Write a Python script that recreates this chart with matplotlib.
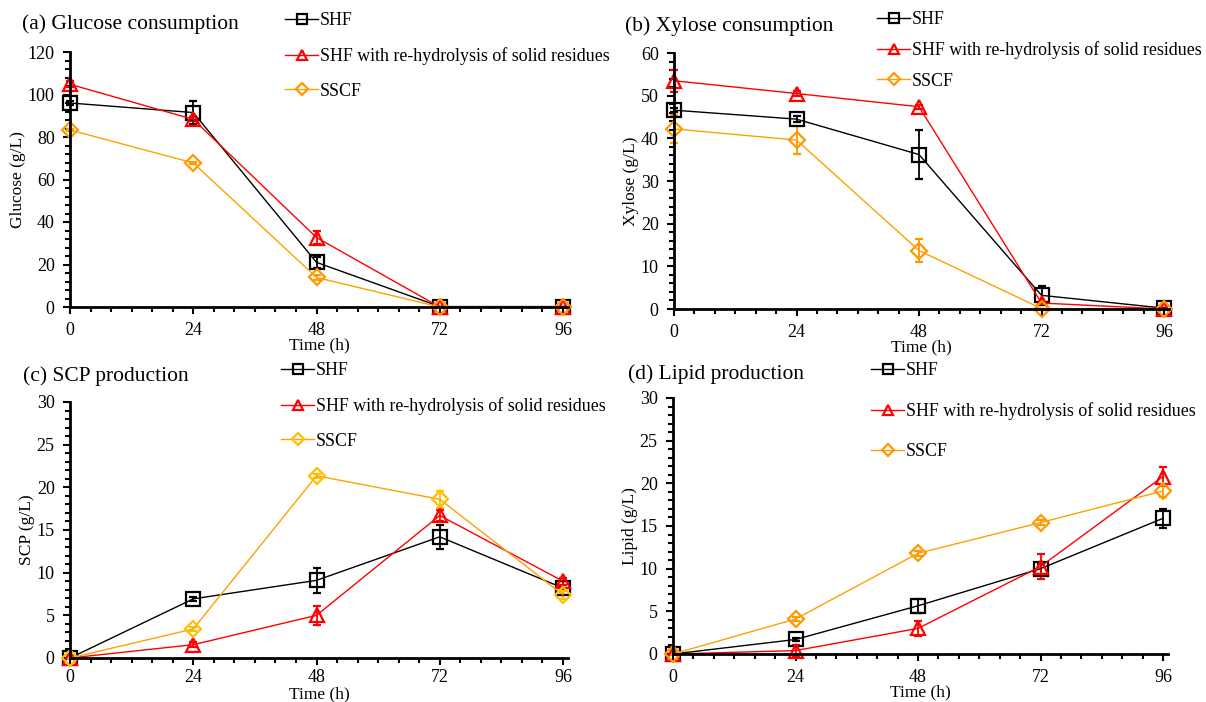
import numpy as np
import matplotlib
matplotlib.use('Agg')
import matplotlib.pyplot as plt
from matplotlib.ticker import MultipleLocator
from matplotlib.lines import Line2D

plt.rcParams['font.family'] = ['Liberation Serif', 'DejaVu Serif']

W, H = 1206, 702

time_h = [0, 24, 48, 72, 96]
series_names = ['SHF', 'SHF with re-hydrolysis of solid residues', 'SSCF']

# glucose (g/L)
glucose_shf = [96.0, 91.5, 21.0, 0.2, 0.2]
glucose_shf_err = [0.8, 5.5, 2.7, 0.0, 0.0]
glucose_rehyd = [104.8, 88.3, 32.7, 0.0, 0.0]
glucose_rehyd_err = [1.5, 1.0, 3.2, 0.0, 0.0]
glucose_sscf = [83.3, 67.8, 13.9, 0.0, 0.0]
glucose_sscf_err = [0.5, 0.5, 1.0, 0.0, 0.0]

# xylose (g/L)
xylose_shf = [46.6, 44.5, 36.2, 3.2, 0.2]
xylose_shf_err = [0.5, 0.7, 5.8, 2.3, 0.0]
xylose_rehyd = [53.5, 50.5, 47.4, 1.4, 0.0]
xylose_rehyd_err = [2.6, 0.5, 0.5, 0.3, 0.0]
xylose_sscf = [42.2, 39.6, 13.7, 0.1, 0.0]
xylose_sscf_err = [3.2, 3.3, 2.7, 0.0, 0.0]

# SCP (g/L)
scp_shf = [0.0, 6.93, 9.1, 14.2, 8.2]
scp_shf_err = [0.0, 0.2, 1.5, 1.4, 0.8]
scp_rehyd = [0.0, 1.56, 5.0, 16.7, 9.0]
scp_rehyd_err = [0.0, 0.3, 1.1, 0.6, 0.4]
scp_sscf = [0.0, 3.4, 21.35, 18.6, 7.4]
scp_sscf_err = [0.0, 0.2, 0.2, 1.0, 0.5]

# lipid (g/L)
lipid_shf = [0.0, 1.7, 5.65, 10.0, 15.9]
lipid_shf_err = [0.0, 0.2, 0.8, 0.6, 1.1]
lipid_rehyd = [0.0, 0.4, 3.0, 10.25, 20.8]
lipid_rehyd_err = [0.0, 0.7, 0.9, 1.5, 1.1]
lipid_sscf = [0.0, 4.1, 11.8, 15.4, 19.1]
lipid_sscf_err = [0.0, 0.2, 0.3, 0.3, 0.7]


def px_rect(x0, x96, y0, ytop, xmax=97.0):
    # axes box from pixel positions of t=0, t=96 and the y range
    w = (x96 - x0) * xmax / 96.0
    return [x0 / W, (H - y0) / H, w / W, (y0 - ytop) / H]


panels = [
    dict(rect=px_rect(70, 563, 307, 52), title='(a) Glucose consumption', title_xy=(22, 24),
         ylabel='Glucose (g/L)', ymax=120, major=20, minor=4, xpad=-1, tpad=6,
         data=[(glucose_shf, glucose_shf_err), (glucose_rehyd, glucose_rehyd_err), (glucose_sscf, glucose_sscf_err)],
         leg_xy=(285, 12), leg_space=1.0, sscf_marker='#FF9900'),
    dict(rect=px_rect(674, 1164, 309, 53), title='(b) Xylose consumption', title_xy=(625, 26),
         ylabel='Xylose (g/L)', ymax=60, major=10, minor=2, xpad=-1, tpad=6,
         data=[(xylose_shf, xylose_shf_err), (xylose_rehyd, xylose_rehyd_err), (xylose_sscf, xylose_sscf_err)],
         leg_xy=(877, 11), leg_space=0.75, sscf_marker='#FF9900'),
    dict(rect=px_rect(70, 563, 658, 402), title='(c) SCP production', title_xy=(23, 376),
         ylabel='SCP (g/L)', ymax=30, major=5, minor=1, xpad=0, tpad=3,
         data=[(scp_shf, scp_shf_err), (scp_rehyd, scp_rehyd_err), (scp_sscf, scp_sscf_err)],
         leg_xy=(281, 362), leg_space=1.0, sscf_marker='#FFC000'),
    dict(rect=px_rect(673, 1163, 654, 398), title='(d) Lipid production', title_xy=(628, 374),
         ylabel='Lipid (g/L)', ymax=30, major=5, minor=1, xpad=-1, tpad=6,
         data=[(lipid_shf, lipid_shf_err), (lipid_rehyd, lipid_rehyd_err), (lipid_sscf, lipid_sscf_err)],
         leg_xy=(871, 362), leg_space=1.3, sscf_marker='#FF9900'),
]

fig = plt.figure(figsize=(W / 100, H / 100), dpi=100)

for p in panels:
    ax = fig.add_axes(p['rect'])
    styles = [
        dict(color='black', marker='s', mec='black', ms=10),
        dict(color='#FF0000', marker='^', mec='#FF0000', ms=10),
        dict(color='#FFA000', marker='D', mec=p['sscf_marker'], ms=8),
    ]
    handles = []
    for (vals, err), st in zip(p['data'], styles):
        eb = ax.errorbar(time_h, vals, yerr=err, color=st['color'], lw=1.0,
                         marker=st['marker'], ms=st['ms'], mfc='none', mec=st['mec'], mew=1.6,
                         ecolor=st['mec'], elinewidth=1.3, capsize=3, capthick=1.3,
                         clip_on=False)
        eb.lines[0].set_clip_on(False)
        for a in eb.lines[1] + eb.lines[2]:
            a.set_clip_on(False)
        handles.append(Line2D([], [], color=st['color'], lw=1.0, marker=st['marker'],
                              ms=st['ms'] * 0.72, mfc='none', mec=st['mec'], mew=1.6))

    ax.set_xlim(0, 97)
    ax.set_ylim(0, p['ymax'])
    ax.set_xticks(time_h)
    ax.xaxis.set_minor_locator(MultipleLocator(4))
    ax.yaxis.set_major_locator(MultipleLocator(p['major']))
    ax.yaxis.set_minor_locator(MultipleLocator(p['minor']))
    for side in ['top', 'right']:
        ax.spines[side].set_visible(False)
    for side in ['left', 'bottom']:
        ax.spines[side].set_linewidth(2.0)
    ax.tick_params(which='major', direction='out', length=5, width=1.5, labelsize=13, pad=6)
    ax.tick_params(axis='x', which='major', pad=p['tpad'])
    ax.tick_params(which='minor', direction='out', length=3.5, width=1.5)
    ax.set_ylabel(p['ylabel'], fontsize=12.5, labelpad=1)
    ax.set_xlabel('Time (h)', fontsize=12.5, labelpad=p['xpad'])

    fig.text(p['title_xy'][0] / W, 1 - p['title_xy'][1] / H, p['title'],
             fontsize=15.5, va='center', ha='left')

    ax.legend(handles, series_names, loc='upper left',
              bbox_to_anchor=(p['leg_xy'][0] / W, 1 - p['leg_xy'][1] / H),
              bbox_transform=fig.transFigure, frameon=False, fontsize=12.9,
              borderpad=0, borderaxespad=0, handlelength=1.85, handletextpad=0.1,
              labelspacing=p['leg_space'])

fig.savefig('out.png', dpi=100)
